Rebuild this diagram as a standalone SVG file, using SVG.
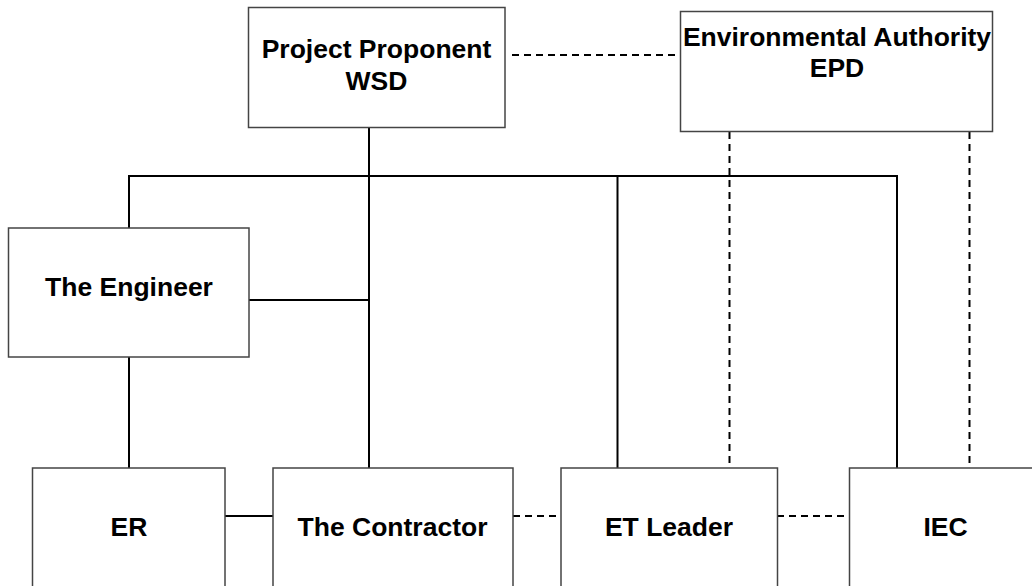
<svg xmlns="http://www.w3.org/2000/svg" width="1032" height="586" viewBox="0 0 1032 586">
  <style>
    .box { fill: #ffffff; stroke: #444444; stroke-width: 1.5; }
    .lbl { font-family: "Liberation Sans", Arial, sans-serif; font-weight: bold; font-size: 26.5px; fill: #000000; text-anchor: middle; }
    .solid { fill: none; stroke: #000000; stroke-width: 2; }
    .dash { fill: none; stroke: #000000; stroke-width: 2; stroke-dasharray: 7 5; }
  </style>
  <rect width="1032" height="586" fill="#ffffff"/>

  <!-- connectors -->
  <g id="connectors">
    <!-- reporting lines -->
    <path class="solid" d="M369,128 V468"/>
    <path class="solid" d="M129,228 V176 H897 V468"/>
    <path class="solid" d="M617.5,176 V468"/>
    <path class="solid" d="M249,300 H369"/>
    <path class="solid" d="M129,357 V468"/>
    <path class="solid" d="M225,516 H273"/>
    <!-- communication lines -->
    <path class="dash" d="M512,55 H677"/>
    <path class="dash" d="M729.5,132 V468"/>
    <path class="dash" d="M969.5,132 V468"/>
    <path class="dash" d="M513,516 H561"/>
    <path class="dash" d="M777,516 H849"/>
  </g>

  <g id="project-proponent">
    <rect class="box" x="248.5" y="7.5" width="256.5" height="120"/>
    <text class="lbl" x="376.5" y="58">Project Proponent</text>
    <text class="lbl" x="376.5" y="90">WSD</text>
  </g>

  <g id="environmental-authority">
    <rect class="box" x="680.5" y="11.5" width="312" height="120"/>
    <text class="lbl" x="837" y="46">Environmental Authority</text>
    <text class="lbl" x="837" y="77">EPD</text>
  </g>

  <g id="engineer">
    <rect class="box" x="8.5" y="228" width="240.5" height="129"/>
    <text class="lbl" x="129" y="296">The Engineer</text>
  </g>

  <g id="er">
    <rect class="box" x="32.5" y="468" width="192.5" height="140"/>
    <text class="lbl" x="129" y="536">ER</text>
  </g>

  <g id="contractor">
    <rect class="box" x="273" y="468" width="240" height="140"/>
    <text class="lbl" x="392.5" y="536">The Contractor</text>
  </g>

  <g id="et-leader">
    <rect class="box" x="561" y="468" width="216.5" height="140"/>
    <text class="lbl" x="669" y="536">ET Leader</text>
  </g>

  <g id="iec">
    <rect class="box" x="849.5" y="468" width="200" height="140"/>
    <text class="lbl" x="945.5" y="536">IEC</text>
  </g>
</svg>
